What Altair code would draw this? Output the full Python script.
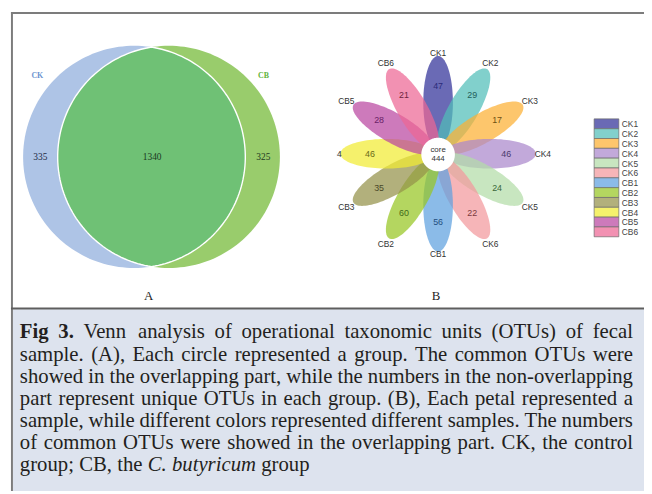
import math
import numpy as np
import pandas as pd
import altair as alt

# ---------------- data ----------------
venn_sets = ["CK", "CB"]
venn_unique = [335, 325]
venn_common = 1340

samples = ["CK1", "CK2", "CK3", "CK4", "CK5", "CK6",
           "CB1", "CB2", "CB3", "CB4", "CB5", "CB6"]
petal_values = [47, 29, 17, 46, 24, 22, 56, 60, 35, 46, 28, 21]
core_value = 444

sample_colors = ["#6a6ab5", "#82d0cc", "#fdc66c", "#c2a9da", "#c8e6c0", "#f6b5b8",
                 "#8bbbe8", "#b4d660", "#b2b07c", "#f5f16c", "#cd7abb", "#f291b2"]
number_colors = ["#2b2b7a", "#1f5e5a", "#6e5012", "#4a3a6e", "#3a683a", "#7a3a40",
                 "#1f4f80", "#3e6a1a", "#4a4828", "#6a6a18", "#6a1f68", "#6e2440"]

panel_labels = ["A", "B"]

caption_lines = [
    "Fig 3. Venn analysis of operational taxonomic units (OTUs) of fecal",
    "sample. (A), Each circle represented a group. The common OTUs were",
    "showed in the overlapping part, while the numbers in the non-overlapping",
    "part represent unique OTUs in each group. (B), Each petal represented a",
    "sample, while different colors represented different samples. The numbers",
    "of common OTUs were showed in the overlapping part. CK, the control",
    "group; CB, the C. butyricum group",
]
bold_words = {(0, 0), (0, 1)}
italic_words = {(6, 3), (6, 4)}

# ---------------- helpers ----------------
PROJ = dict(type="identity", scale=1, translate=[-8, -8])

TIMES = {" ": 250, "!": 333, "(": 333, ")": 333, ",": 250, "-": 333, ".": 250,
         ";": 278, ":": 278}
for d in "0123456789":
    TIMES[d] = 500
TIMES.update(dict(zip("ABCDEFGHIJKLMNOPQRSTUVWXYZ",
                      [722, 667, 667, 722, 611, 556, 722, 722, 333, 389, 722, 611, 889,
                       722, 722, 556, 722, 667, 556, 611, 722, 722, 944, 722, 722, 611])))
TIMES.update(dict(zip("abcdefghijklmnopqrstuvwxyz",
                      [444, 500, 444, 500, 444, 333, 500, 500, 278, 278, 500, 278, 778,
                       500, 500, 500, 500, 333, 389, 278, 500, 500, 722, 500, 500, 444])))
TIMES_B = dict(TIMES)
TIMES_B.update({"F": 611, "i": 278, "g": 500, "3": 500, ".": 250})
TIMES_I = dict(TIMES)
TIMES_I.update({"C": 667, ".": 250, "b": 500, "u": 500, "t": 278, "y": 444, "r": 389,
                "i": 278, "c": 444, "m": 722})


def tw(s, size, table):
    return sum(table.get(ch, 500) for ch in s) * size / 1000.0


def poly(pts, fill, op=1.0):
    coords = [[round(float(x), 2), round(float(y), 2)] for x, y in pts]
    coords.append(coords[0])
    return {"type": "Feature",
            "geometry": {"type": "Polygon", "coordinates": [coords]},
            "properties": {"fill": fill, "op": op}}


def rect(x0, y0, x1, y1, fill, op=1.0):
    return poly([(x0, y0), (x1, y0), (x1, y1), (x0, y1)], fill, op)


def circle_pts(cx, cy, r, n=180):
    t = np.linspace(0, 2 * np.pi, n, endpoint=False)
    return list(zip(cx + r * np.cos(t), cy + r * np.sin(t)))


def shape_layer(features, **mk):
    mk.setdefault("strokeWidth", 0)
    return alt.Chart(alt.Data(values=features)).mark_geoshape(**mk).encode(
        color=alt.Color("properties.fill:N", scale=None),
        opacity=alt.Opacity("properties.op:Q", scale=None),
    ).project(**PROJ)


def text_layer(rows, **mk):
    df = pd.DataFrame(rows, columns=["x", "y", "t", "c"])
    return alt.Chart(df).mark_text(**mk).encode(
        longitude="x:Q", latitude="y:Q", text="t:N",
        color=alt.Color("c:N", scale=None),
    ).project(**PROJ)


layers = []

# ---------------- frame and caption background ----------------
frame = [
    rect(13, 310, 660, 500, "#dde3ee"),
    rect(11, 9, 660, 11, "#7c7c7c"),
    rect(11, 9, 13, 500, "#7c7c7c"),
    rect(11, 308.3, 660, 310.3, "#5e5e5e"),
]
layers.append(shape_layer(frame))

# ---------------- Venn (panel A) ----------------
vr = 112.5
c1 = (135.8, 155.7)
c2 = (170.8, 155.7)
half = (c2[0] - c1[0]) / 2
h = math.sqrt(vr * vr - half * half)
a1 = math.atan2(-h, half)
ta = np.linspace(a1, -a1, 90)
arc1 = list(zip(c1[0] + vr * np.cos(ta), c1[1] + vr * np.sin(ta)))
a2 = math.atan2(h, -half)
tb = np.linspace(a2, 2 * np.pi - a2, 90)
arc2 = list(zip(c2[0] + vr * np.cos(tb), c2[1] + vr * np.sin(tb)))
layers.append(shape_layer([
    poly(circle_pts(*c1, vr), "#aec4e6"),
    poly(circle_pts(*c2, vr), "#99cc6c"),
]))
layers.append(shape_layer([poly(arc1 + arc2, "#6fc175")], stroke="white", strokeWidth=1.4))

layers.append(text_layer([(37.7, 74.3, venn_sets[0], "#6d93d0"),
                          (266.7, 74.3, venn_sets[1], "#62b43a")],
                         font="Liberation Serif", fontSize=8, fontWeight="bold",
                         baseline="middle", align="center"))
layers.append(text_layer([(40.8, 156.3, str(venn_unique[0]), "#1f2a44"),
                          (154.0, 156.3, str(venn_common), "#1b3a22"),
                          (266.5, 156.3, str(venn_unique[1]), "#1f3a1f")],
                         font="Liberation Serif", fontSize=9.5,
                         baseline="middle", align="center"))

# ---------------- Flower (panel B) ----------------
fcx, fcy = 443.5, 152.5
pa, pb, pdc = 47.0, 15.0, 52.0
alpha = 0.72


def base_color(hexc):
    r, g, b = (int(hexc[i:i + 2], 16) for i in (1, 3, 5))
    f = lambda v: max(0, min(255, int(round((v - 255 * (1 - alpha)) / alpha))))
    return "#%02x%02x%02x" % (f(r), f(g), f(b))


t = np.linspace(0, 2 * np.pi, 100, endpoint=False)
petals = []
lab_rows, num_rows = [], []
for i, name in enumerate(samples):
    th = math.radians(90 - 30 * i)
    u = pdc + pa * np.cos(t)
    v = pb * np.sin(t)
    xs = fcx + u * math.cos(th) - v * math.sin(th)
    ys = fcy - (u * math.sin(th) + v * math.cos(th))
    petals.append(poly(list(zip(xs, ys)), base_color(sample_colors[i]), alpha))
    rl = 97 + abs(math.cos(th)) * 9 + abs(math.sin(th)) * 5
    lab_rows.append((fcx + rl * math.cos(th), fcy - rl * math.sin(th), name, "#333333"))
    rn = 69
    num_rows.append((fcx + rn * math.cos(th), fcy - rn * math.sin(th),
                     str(petal_values[i]), number_colors[i]))
layers.append(shape_layer(petals))
layers.append(shape_layer([poly(circle_pts(fcx, fcy + 0.8, 17), "#ffffff")]))
layers.append(text_layer(num_rows, font="Liberation Sans", fontSize=9,
                         baseline="middle", align="center"))
layers.append(text_layer(lab_rows, font="Liberation Sans", fontSize=8.5,
                         baseline="middle", align="center"))
layers.append(text_layer([(fcx, fcy - 4.2, "core", "#333333"),
                          (fcx, fcy + 5.6, str(core_value), "#333333")],
                         font="Liberation Sans", fontSize=8,
                         baseline="middle", align="center"))
# panel B image is cropped at its left edge
layers.append(shape_layer([rect(292, 138, 341, 162, "#ffffff")]))

# legend
lx0, lx1, ly0, lh = 601.5, 626.5, 117.2, 9.95
sw = [rect(lx0, ly0 + i * lh, lx1, ly0 + (i + 1) * lh, sample_colors[i])
      for i in range(len(samples))]
layers.append(shape_layer(sw, stroke="#6a6a6a", strokeWidth=0.7))
layers.append(text_layer([(629.5, ly0 + (i + 0.55) * lh, s, "#444444")
                          for i, s in enumerate(samples)],
                         font="Liberation Sans", fontSize=8.5,
                         baseline="middle", align="left"))

# panel letters
layers.append(text_layer([(150.3, 297, panel_labels[0], "#222222"),
                          (441.3, 297, panel_labels[1], "#222222")],
                         font="Liberation Serif", fontSize=13,
                         baseline="middle", align="center"))

# ---------------- caption (justified) ----------------
FS = 21
X0, X1 = 20.0, 640.8
BASE0, LEAD = 339.6, 22.35
reg, bold, ital, reg_right = [], [], [], []
for li, line in enumerate(caption_lines):
    words = line.split(" ")
    y = BASE0 + li * LEAD
    tables = []
    for wi, w in enumerate(words):
        if (li, wi) in bold_words:
            tables.append(TIMES_B)
        elif (li, wi) in italic_words:
            tables.append(TIMES_I)
        else:
            tables.append(TIMES)
    widths = [tw(w, FS, tb) for w, tb in zip(words, tables)]
    last = li == len(caption_lines) - 1
    if last:
        gap = TIMES[" "] * FS / 1000.0
    else:
        gap = (X1 - X0 - sum(widths)) / (len(words) - 1)
    x = X0
    for wi, w in enumerate(words):
        row = (x, y, w, "#231f20")
        if (li, wi) in bold_words:
            bold.append(row)
        elif (li, wi) in italic_words:
            ital.append(row)
        elif (not last) and wi == len(words) - 1:
            reg_right.append((X1, y, w, "#231f20"))
        else:
            reg.append(row)
        x += widths[wi] + gap

layers.append(text_layer(reg, font="Liberation Serif", fontSize=FS,
                         baseline="alphabetic", align="left"))
layers.append(text_layer(reg_right, font="Liberation Serif", fontSize=FS,
                         baseline="alphabetic", align="right"))
layers.append(text_layer(bold, font="Liberation Serif", fontSize=FS, fontWeight="bold",
                         baseline="alphabetic", align="left"))
layers.append(text_layer(ital, font="Liberation Serif", fontSize=FS, fontStyle="italic",
                         baseline="alphabetic", align="left"))

chart = alt.layer(*layers).properties(
    width=644, height=486, padding=0,
    autosize=alt.AutoSizeParams(type="none"),
    background="white",
).configure_view(stroke=None)

chart.save("out.html", embed_options={"renderer": "svg", "actions": False})
